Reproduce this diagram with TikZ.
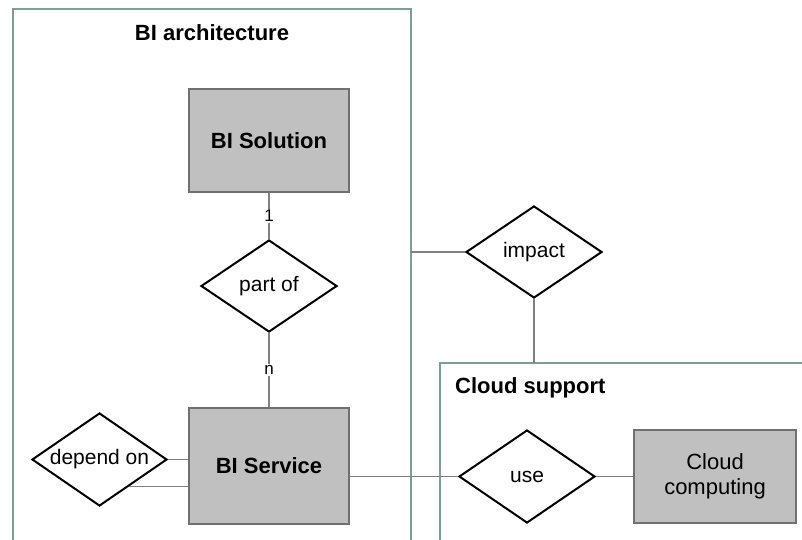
\documentclass[tikz,border=0pt]{standalone}
\usepackage{fontspec}
\setmainfont{Liberation Sans}
\usetikzlibrary{shapes.geometric,calc}
\definecolor{framec}{RGB}{125,158,148}
\definecolor{boxborder}{RGB}{112,112,112}
\definecolor{boxfill}{RGB}{192,192,192}
\definecolor{linec}{RGB}{128,128,128}
\begin{document}
\begin{tikzpicture}[x=1pt,y=-1pt,
  frame/.style={draw=framec,line width=2.2pt},
  entity/.style={draw=boxborder,fill=boxfill,line width=2pt,inner sep=0pt,
    font=\fontsize{22}{26}\selectfont\bfseries,align=center},
  relation/.style={diamond,aspect=1.46,draw=black,fill=white,line width=2pt,inner sep=0pt,
    font=\fontsize{21}{25}\selectfont},
  conn/.style={draw=linec,line width=1.6pt},
  card/.style={fill=white,inner sep=1.5pt,font=\fontsize{17}{19}\selectfont},
  title/.style={font=\fontsize{22}{26}\selectfont\bfseries,inner sep=0pt}]
\useasboundingbox (0,0) rectangle (802,540);
% frames
\coordinate (archright) at (411,9);
\coordinate (cloudtop) at (440,363);
\draw[frame] (13,545) -- (13,9) -- (archright) -- (411,545);
\draw[frame] (440,545) -- (cloudtop) -- (805,363);
\node[title] (archtitle) at (212,33) {BI architecture};
\node[title,anchor=west] (cloudtitle) at (455,388) {Cloud support};
% entities
\node[entity,minimum width=160pt,minimum height=103pt] (sol) at (269,140.5) {BI Solution};
\node[entity,minimum width=160pt,minimum height=116pt] (svc) at (269,466) {BI Service};
\node[entity,minimum width=162pt,minimum height=93pt,font=\fontsize{22}{25}\selectfont] (cc) at (715,476.5) {Cloud\\computing};
% relations
\node[relation,minimum width=136pt,minimum height=92pt] (partof) at (269,286) {part of};
\node[relation,minimum width=135pt,minimum height=93pt] (dep) at (99.5,459.5) {depend on};
\node[relation,minimum width=136pt,minimum height=92pt] (impact) at (534,252) {impact};
\node[relation,minimum width=136pt,minimum height=93pt] (use) at (527,476.5) {use};
% connectors
\draw[conn] (sol.south) -- node[card] {1} (partof.north);
\draw[conn] (partof.south) -- node[card] {n} (svc.north);
\draw[conn] (dep.east) -- (dep.east -| svc.west);
\draw[conn] (dep.-42) -- (dep.-42 -| svc.west);
\draw[conn] (use.west) -- (use.west -| svc.east);
\draw[conn] (use.east) -- (cc.west);
\draw[conn] (impact.west) -- (impact.west -| archright);
\draw[conn] (impact.south) -- (impact.south |- cloudtop);
\end{tikzpicture}
\end{document}
